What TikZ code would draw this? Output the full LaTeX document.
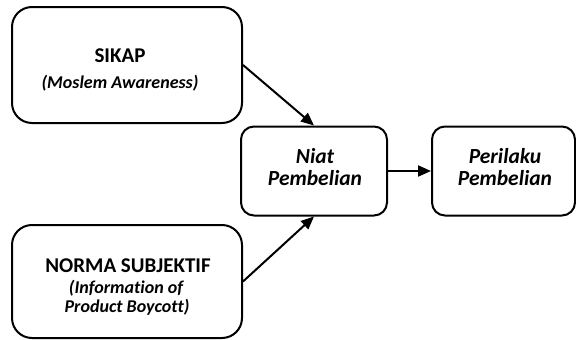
\documentclass[tikz,border=0pt]{standalone}
\usepackage{fontspec}
\setmainfont{Carlito}[Ligatures={NoCommon}]
\usetikzlibrary{arrows.meta}
\begin{document}
\begin{tikzpicture}[x=1pt,y=-1pt,
  bigbox/.style={draw,line width=2pt,rounded corners=20pt,inner sep=0pt},
  smallbox/.style={draw,line width=2pt,rounded corners=13pt,inner sep=0pt},
  conn/.style={line width=2pt,-{Triangle[length=13pt,width=11pt]}},
  ttl/.style={anchor=base,inner sep=0pt,font=\fontsize{21}{26}\selectfont\bfseries},
  sub/.style={anchor=base,inner sep=0pt,font=\fontsize{18}{22}\selectfont\bfseries\itshape},
  mid/.style={anchor=base,inner sep=0pt,font=\fontsize{21.5}{24}\selectfont\bfseries\itshape},
]
\useasboundingbox (0,0) rectangle (576,340);
\node[bigbox,minimum width=230pt,minimum height=116pt] (sikap) at (127,65) {};
\node[bigbox,minimum width=230pt,minimum height=113pt] (norma) at (127,281.5) {};
\node[smallbox,minimum width=146pt,minimum height=89pt] (niat) at (314,171) {};
\node[smallbox,minimum width=143pt,minimum height=89pt] (perilaku) at (503.5,171) {};
\node[ttl] (sikapA) at (120,62) {SIKAP};
\node[sub] (sikapB) at (120,88) {(Moslem Awareness)};
\node[ttl] (normaA) at (128,272) {NORMA SUBJEKTIF};
\node[sub] (normaB) at (126,293) {(Information of};
\node[sub] (normaC) at (127,312) {Product Boycott)};
\node[mid] (niatA) at (315,163) {Niat};
\node[mid] (niatB) at (315,185) {Pembelian};
\node[mid] (perA) at (505,163) {Perilaku};
\node[mid] (perB) at (505,185) {Pembelian};
\draw[conn] (sikap.east) -- (niat.north);
\draw[conn] (norma.east) -- (niat.south);
\draw[conn] (niat.east) -- (perilaku.west);
\end{tikzpicture}
\end{document}
